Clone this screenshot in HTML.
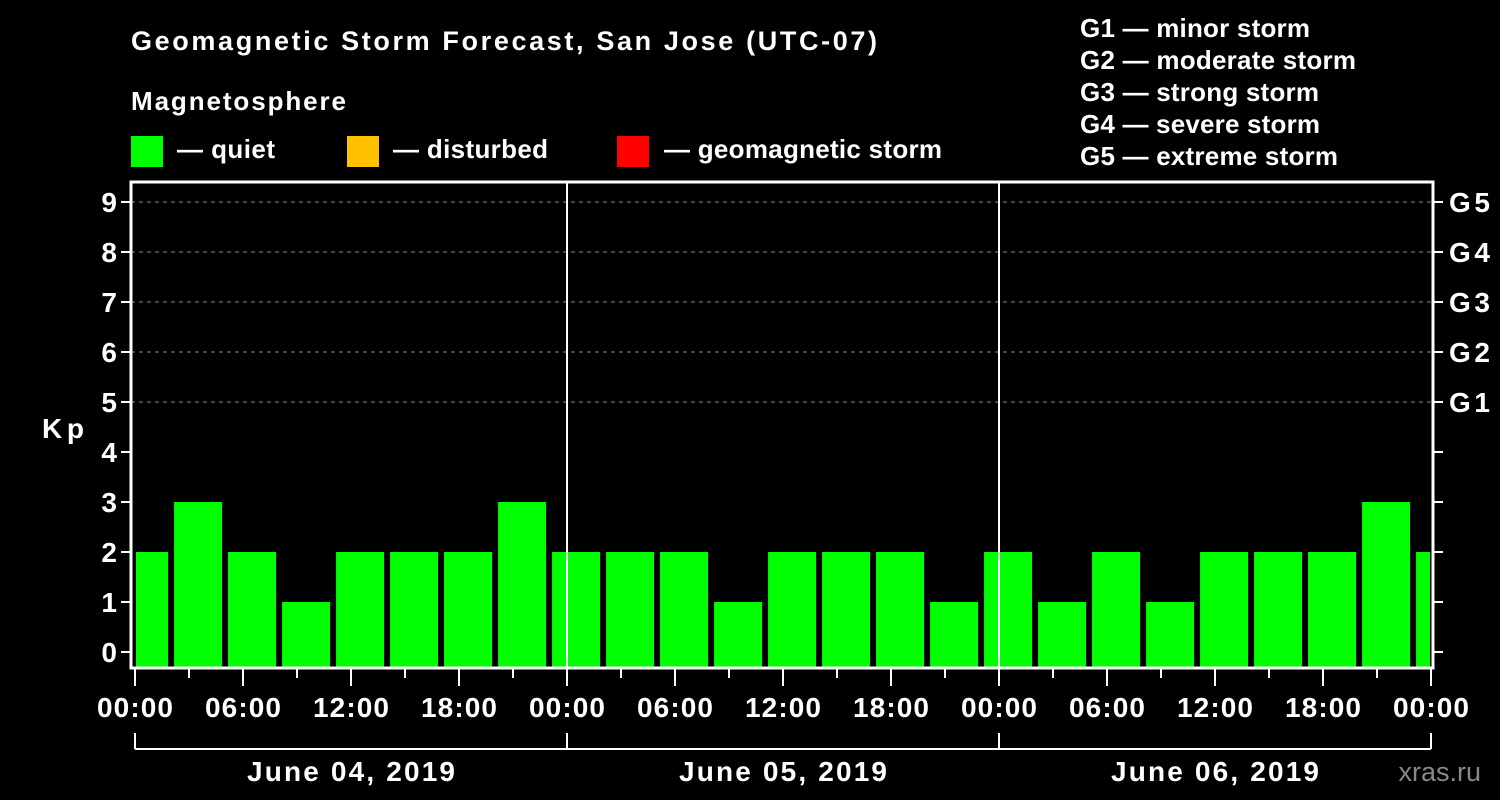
<!DOCTYPE html>
<html><head><meta charset="utf-8"><style>
html,body{margin:0;padding:0;background:#000;}
svg{display:block;font-family:"Liberation Sans",Arial,sans-serif;font-weight:bold;}
</style></head><body>
<svg id="chart" width="1500" height="800" viewBox="0 0 1500 800" xmlns="http://www.w3.org/2000/svg">
<rect width="1500" height="800" fill="#000"/>
<text x="131" y="50" fill="#fff" font-size="27" textLength="746" lengthAdjust="spacing">Geomagnetic Storm Forecast, San Jose (UTC-07)</text>
<text x="131" y="110" fill="#fff" font-size="26" textLength="215" lengthAdjust="spacing">Magnetosphere</text>
<g><rect x="131" y="136" width="32" height="31" fill="#00ff00"/><text x="177" y="158" fill="#fff" font-size="26" textLength="98" lengthAdjust="spacing">— quiet</text></g>
<g><rect x="347" y="136" width="32" height="31" fill="#ffc000"/><text x="393" y="158" fill="#fff" font-size="26" textLength="155" lengthAdjust="spacing">— disturbed</text></g>
<g><rect x="617" y="136" width="32" height="31" fill="#ff0000"/><text x="664" y="158" fill="#fff" font-size="26" textLength="278" lengthAdjust="spacing">— geomagnetic storm</text></g>
<g fill="#fff" font-size="26">
<text x="1080" y="37" textLength="230" lengthAdjust="spacing">G1 — minor storm</text>
<text x="1080" y="69" textLength="276" lengthAdjust="spacing">G2 — moderate storm</text>
<text x="1080" y="101" textLength="239" lengthAdjust="spacing">G3 — strong storm</text>
<text x="1080" y="133" textLength="240" lengthAdjust="spacing">G4 — severe storm</text>
<text x="1080" y="165" textLength="258" lengthAdjust="spacing">G5 — extreme storm</text>
</g>
<text x="42" y="438" fill="#fff" font-size="28" textLength="42" lengthAdjust="spacing">Kp</text>
<text x="1481" y="781" fill="#888" font-size="27" text-anchor="end" font-weight="normal">xras.ru</text>
<g id="grid"></g><g id="bars"></g><g id="axes"></g>
</svg>
<script>
const kpValues=[2,3,2,1,2,2,2,3,2,2,2,1,2,2,2,1,2,1,2,1,2,2,2,3,2];
const yTicks=[0,1,2,3,4,5,6,7,8,9];
const gLabels=["G1","G2","G3","G4","G5"];
const dayLabels=["June 04, 2019","June 05, 2019","June 06, 2019"];
const hourLabels=["00:00","06:00","12:00","18:00"];
const NS="http://www.w3.org/2000/svg";
const X0=135,PXH=18,L=131,R=1433,T=182,B=668;
const x=h=>X0+h*PXH; const y=v=>652-v*50;
function mk(tag,attrs,parent,txt){const e=document.createElementNS(NS,tag);for(const k in attrs)e.setAttribute(k,attrs[k]);if(txt!==undefined)e.textContent=txt;parent.appendChild(e);return e;}
const grid=document.getElementById('grid'),bars=document.getElementById('bars'),axes=document.getElementById('axes');
[5,6,7,8,9].forEach(v=>{const l=mk('line',{x1:L,x2:R,y1:y(v),y2:y(v),stroke:'#888','stroke-dasharray':'4,4','stroke-width':1},grid);

});
kpValues.forEach((v,i)=>{const c=x(3*i-0.83)+24;let l=c-24,r=c+24;l=Math.max(l,L+5);r=Math.min(r,x(72)-1);
const col=v>=5?'#ff0000':(v>=4?'#ffc000':'#00ff00');
const b=mk('rect',{x:l,y:y(v),width:r-l,height:B-1-y(v),fill:col},bars);

});
[1,2].forEach(d=>{const l=mk('line',{x1:x(24*d),x2:x(24*d),y1:T,y2:B,stroke:'#fff','stroke-width':2},axes);

});
const fr=mk('path',{d:`M${L},${T}H${R}V${B}H${L}Z`,fill:'none',stroke:'#fff','stroke-width':3},axes);


yTicks.forEach(v=>{mk('line',{x1:L-10,x2:L,y1:y(v),y2:y(v),stroke:'#fff','stroke-width':2},axes);mk('line',{x1:R,x2:R+10,y1:y(v),y2:y(v),stroke:'#fff','stroke-width':2},axes);
const t=mk('text',{x:117,y:y(v)+10,fill:'#fff','font-size':28,'text-anchor':'end'},axes,String(v));

});
gLabels.forEach((g,i)=>{const t=mk('text',{x:1449,y:y(5+i)+10,fill:'#fff','font-size':28,textLength:41,lengthAdjust:'spacing'},axes,g);

});
for(let h=0;h<=72;h+=3){const major=h%6===0;mk('line',{x1:x(h),x2:x(h),y1:B,y2:major?686:678,stroke:'#fff','stroke-width':2},axes);
if(major){const t=mk('text',{x:x(h),y:717,fill:'#fff','font-size':28,'text-anchor':'middle',textLength:76,lengthAdjust:'spacing'},axes,h===72?"00:00":hourLabels[(h%24)/6]);

}}
mk('line',{x1:x(0),x2:x(72),y1:749,y2:749,stroke:'#fff','stroke-width':2},axes);
for(let d=0;d<=3;d++)mk('line',{x1:x(24*d),x2:x(24*d),y1:733,y2:749,stroke:'#fff','stroke-width':2},axes);
dayLabels.forEach((s,d)=>{const t=mk('text',{x:x(24*d+12),y:781,fill:'#fff','font-size':28,'text-anchor':'middle',textLength:208,lengthAdjust:'spacing'},axes,s);

});
</script>
</body></html>
